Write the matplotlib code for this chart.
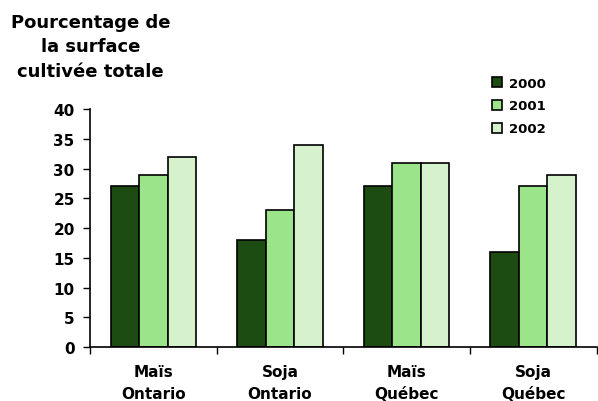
import numpy as np
import matplotlib
matplotlib.use("Agg")
import matplotlib.pyplot as plt

plt.rcParams['font.family'] = ['DejaVu Sans']

# data
categories = ["Maïs\nOntario", "Soja\nOntario", "Maïs\nQuébec", "Soja\nQuébec"]
years = ["2000", "2001", "2002"]
v2000 = [27, 18, 27, 16]
v2001 = [29, 23, 31, 27]
v2002 = [32, 34, 31, 29]
colors = ["#1c4c12", "#9be48a", "#d5f2cd"]

fig = plt.figure(figsize=(5.98, 4.02), dpi=100)
ax = fig.add_axes([0.1505, 0.134, 0.847, 0.592])

x = np.arange(len(categories))
w = 0.225
for i, (vals, lab) in enumerate(zip([v2000, v2001, v2002], years)):
    ax.bar(x + (i - 1) * w, vals, w, color=colors[i], edgecolor="black",
           linewidth=1.2, label=lab)

ax.set_xlim(-0.5, len(categories) - 0.5)
ax.set_ylim(0, 40)
ax.set_yticks(range(0, 41, 5))
ax.set_yticklabels([str(t) for t in range(0, 41, 5)], fontsize=11, fontweight="bold")
ax.tick_params(axis="y", length=5, width=1, pad=6)

# category boundary ticks on x, labels placed in the middle
ax.set_xticks(np.arange(-0.5, len(categories), 1.0))
ax.set_xticklabels([])
ax.tick_params(axis="x", length=5, width=1, direction="out")
ax.set_xticks(x, minor=True)
ax.set_xticklabels(categories, minor=True, fontsize=11, fontweight="bold",
                   linespacing=1.6)
ax.tick_params(axis="x", which="minor", length=0, pad=12)

for s in ["top", "right"]:
    ax.spines[s].set_visible(False)
for s in ["left", "bottom"]:
    ax.spines[s].set_linewidth(1.2)

fig.text(0.151, 0.965, "Pourcentage de\nla surface\ncultivée totale",
         ha="center", va="top", fontsize=13, fontweight="bold",
         linespacing=1.45)

leg = ax.legend(loc="upper left", bbox_to_anchor=(0.794, 1.137), frameon=False,
                prop={"size": 9.5, "weight": "bold"}, handlelength=0.75,
                handleheight=0.75, handletextpad=0.5, labelspacing=0.75,
                borderpad=0, borderaxespad=0)

fig.savefig("out.png", dpi=100)
